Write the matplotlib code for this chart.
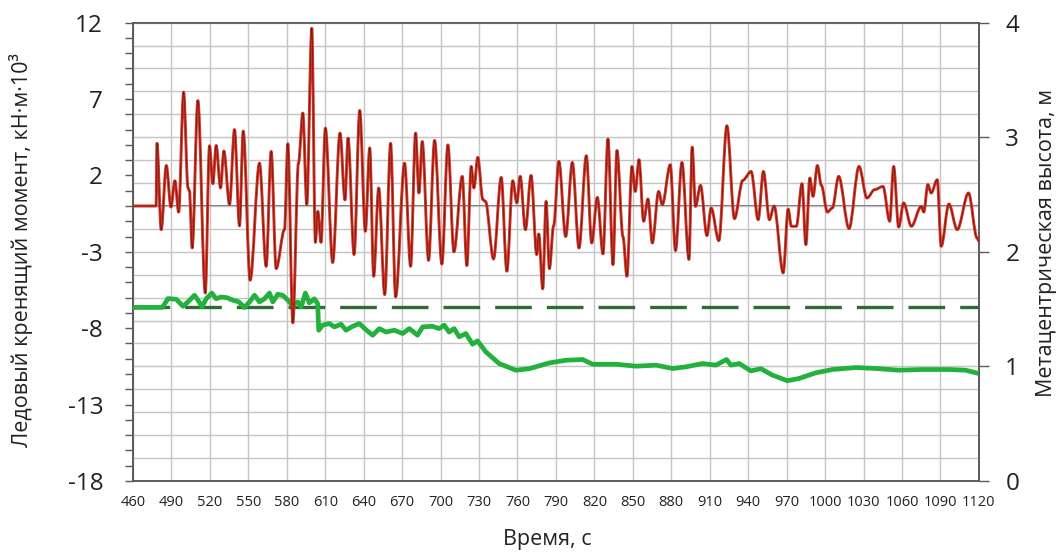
import numpy as np
import matplotlib
matplotlib.use("Agg")
import matplotlib.pyplot as plt
from matplotlib.ticker import MultipleLocator
from matplotlib.path import Path
from matplotlib.patches import PathPatch

plt.rcParams['font.family'] = ['Open Sans', 'DejaVu Sans']
plt.rcParams['axes.unicode_minus'] = False

# ice heeling moment, kN*m*10^3 (left axis)
t_moment = [460, 478, 478.7, 482, 486, 489.6, 492.7, 495.6, 499.5, 502.9, 504, 506.2,
            510.6, 516.4, 519.7, 522.3, 524.9, 528.3, 530.9, 535.3, 539.2, 543.1, 546,
            551.4, 558.7, 563.9, 567.8, 571.7, 578.2, 580.8, 584.7, 589.1, 592.5, 595.6,
            599.5, 602.3, 604.2, 606.7, 610.1, 615.8, 621.5, 625.4, 627.8, 632.5, 636.9,
            641.3, 644.7, 647.8, 651.7, 656.4, 661, 664.9, 671.9, 676.6, 680.5, 683.1,
            685.7, 690.6, 695.3, 701, 705.7, 710.4, 716.9, 720.5, 723.9, 726, 729, 733,
            735, 741.3, 747.3, 751.7, 756.3, 759.5, 762.1, 766.2, 770.6, 775, 776.6,
            779.7, 782.3, 784.9, 788.2, 792.3, 797.6, 802.8, 808, 813.7, 817.9, 822.3,
            826.7, 830.6, 834.5, 837.6, 842.3, 845.4, 849.3, 851.9, 854.8, 858.4, 861.8,
            865.2, 870.1, 873, 879.2, 883.3, 888.3, 893.8, 896.3, 898.9, 902.8, 907.8,
            911.1, 917.1, 923.4, 929.3, 935.8, 942.3, 947.8, 951.9, 956.6, 960.2, 967.3,
            971.2, 973.7, 977.6, 982, 985, 988.1, 990.6, 994, 997.1, 1001.8, 1005.7,
            1010.6, 1018.7, 1026.5, 1032.7, 1038.7, 1045.2, 1050.4, 1053.5, 1057.4,
            1061.3, 1067.3, 1075, 1077, 1080.2, 1082.8, 1087.5, 1090.6, 1096.6, 1103.1,
            1111.9, 1118.6, 1120]
moment = [0, 0, 4.1, -1.55, 2.65, -0.07, 1.65, -0.4, 7.45, 1.2, 1.0, -2.75,
          6.9, -5.7, 3.94, 1.46, 3.96, 1.18, 3.6, 0.1, 5.0, -1.3, 4.9,
          -4.86, 2.8, -3.95, 3.57, -4.1, -1.55, 4.07, -7.65, 2.8, 6.08, 0.1,
          11.63, -2.38, -0.35, -2.38, 5.1, -3.7, 4.77, 0.4, 4.44, -3.18, 6.25,
          -1.66, 3.8, -4.6, 1.18, -5.8, 4.1, -5.95, 2.8, -3.95, 4.77, 0.85,
          4.22, -3.56, 4.29, -3.8, 4.0, -3.0, 1.94, -3.9, 2.59, 1.18, 3.18, 0.41,
          0.3, -3.47, 1.87, -4.27, 1.65, 0.2, 1.94, -1.55, 2.0, -3.18, -1.83,
          -5.42, 0.3, -4.1, -1.29, 2.92, -2.0, 2.85, -2.75, 3.29, -2.42, 0.56,
          -3.14, 4.38, -3.84, 3.63, -2.0, -4.6, 2.59, 0.95, 3.03, -1.0, 0.46,
          -2.42, 0.95, 0.08, 2.7, -2.92, 2.85, -3.5, 3.85, -0.03, 1.35, -1.94,
          -0.13, -2.27, 5.25, -0.83, 1.68, 2.26, -0.9, 2.26, -0.9, 0.0, -4.38,
          -0.2, -1.33, -1.33, 1.46, -2.53, 1.83, 0.63, 2.65, 1.35, -0.4, -0.13,
          1.94, -1.48, 2.59, 0.52, 1.07, 1.28, -1.0, 2.59, -1.38,
          0.2, -1.33, -0.03, -0.4, 1.4, 0.85, 1.72, -2.64, 0.13, -1.55,
          0.85, -2.1, -2.3]

# metacentric height, m (right axis)
t_gm = [460, 483, 487.3, 493.8, 499, 502.9, 508, 510.6, 513.8, 517.1, 521.5, 524.9,
        528.8, 533.2, 537.9, 542.6, 547, 550.9, 554.8, 558.7, 562.6, 566.5, 569.1,
        573, 576.9, 580.8, 584.1, 588.6, 591.2, 594.5, 597.6, 601.5, 604.1, 604.9,
        608, 613.2, 617.1, 622.3, 626.2, 631.4, 636.6, 641.8, 647, 652.2, 657.4,
        663.9, 670.4, 675.6, 682, 686, 693.7, 698.9, 702.8, 706.7, 710.6, 714.5,
        719.7, 724.9, 728.8, 735.3, 745.7, 758.7, 769, 785, 797.9, 810.9, 818.7,
        836.9, 852.5, 868.1, 881, 891.4, 904.4, 914.8, 923.1, 926.5, 933, 942.1,
        949.9, 958.9, 970.6, 979.7, 992.7, 1005.7, 1023.9, 1039.5, 1057.6, 1075.8,
        1096.6, 1109.6, 1117.9]
gm = [1.515, 1.515, 1.592, 1.586, 1.525, 1.563, 1.621, 1.58, 1.52, 1.59, 1.64, 1.59,
      1.606, 1.60, 1.578, 1.563, 1.514, 1.563, 1.621, 1.563, 1.59, 1.64, 1.563,
      1.63, 1.62, 1.578, 1.535, 1.563, 1.52, 1.64, 1.555, 1.59, 1.548, 1.316,
      1.36, 1.374, 1.345, 1.368, 1.316, 1.35, 1.374, 1.32, 1.272, 1.33, 1.30,
      1.316, 1.287, 1.33, 1.272, 1.345, 1.35, 1.33, 1.36, 1.30, 1.33, 1.258,
      1.287, 1.194, 1.223, 1.127, 1.025, 0.967, 0.98, 1.031, 1.054, 1.06, 1.019,
      1.019, 1.002, 1.011, 0.982, 0.996, 1.025, 1.011, 1.06, 1.011, 1.025, 0.961,
      0.98, 0.924, 0.875, 0.895, 0.944, 0.973, 0.99, 0.982, 0.967, 0.973,
      0.973, 0.967, 0.944]
gm_limit = 1.52

x_ticks = list(range(460, 1121, 30))

fig = plt.figure(figsize=(10.64, 5.52), dpi=100)
ax = fig.add_axes([0.125, 0.1286, 0.795, 0.8304])
ax2 = ax.twinx()

grid_col = '#c4c4c4'
spine_col = '#5a5a5a'
text_col = '#222222'

ax.set_xlim(460, 1120)
ax.set_ylim(-18, 12)
ax2.set_ylim(0, 4)

ax.set_xticks(x_ticks)
ax.set_xticklabels([str(v) for v in x_ticks], fontsize=10.5)
ax.set_yticks([12, 7, 2, -3, -8, -13, -18])
ax.yaxis.set_minor_locator(MultipleLocator(1))
ax.tick_params(axis='y', which='both', direction='out', length=5.5, width=1,
               color=spine_col, labelsize=17.5, pad=16, labelcolor=text_col)
ax.tick_params(axis='x', length=0, pad=10, labelcolor=text_col)
ax.grid(axis='x', color=grid_col, lw=1.0)

ax2.set_yticks([0, 1, 2, 3, 4])
ax2.yaxis.set_minor_locator(MultipleLocator(0.2))
ax2.tick_params(axis='y', which='major', direction='out', length=7, width=1,
                color=spine_col, labelsize=17.5, pad=12, labelcolor=text_col)
ax2.tick_params(axis='y', which='minor', length=0)
ax2.grid(axis='y', which='both', color=grid_col, lw=1.0)

for a in (ax, ax2):
    for s in a.spines.values():
        s.set_color(spine_col)
        s.set_linewidth(1.2)

# zero line of the moment axis
ax.axhline(0, color='#555555', lw=1.2, zorder=1.8)

ax2.plot([460, 1120], [gm_limit, gm_limit], color='#2f6b34', lw=2.4,
         dashes=(11, 4.5), zorder=2)
ax2.plot(t_gm, gm, color='#22b13c', lw=3.4, solid_joinstyle='round', zorder=3)

# smoothed moment curve: cubic bezier through the read points, flat tangents
verts = [(t_moment[0], moment[0])]
codes = [Path.MOVETO]
for i in range(len(t_moment) - 1):
    dt = (t_moment[i + 1] - t_moment[i]) / 3
    verts += [(t_moment[i] + dt, moment[i]),
              (t_moment[i + 1] - dt, moment[i + 1]),
              (t_moment[i + 1], moment[i + 1])]
    codes += [Path.CURVE4] * 3
curve = Path(verts, codes)
ax2.add_patch(PathPatch(curve, fill=False, edgecolor='#d8301f', lw=2.1,
                        joinstyle='round', transform=ax.transData, zorder=4))
ax2.add_patch(PathPatch(curve, fill=False, edgecolor='#4e1a1a', lw=0.45,
                        joinstyle='round', transform=ax.transData, zorder=5))

ax.set_xlabel('Время, с', fontsize=15.5, color=text_col)
ax.xaxis.set_label_coords(0.49, -0.104)
ax.set_ylabel('Ледовый кренящий момент, кН·м·10³', fontsize=15.5, color=text_col)
ax.yaxis.set_label_coords(-0.118, 0.505)
ax2.set_ylabel('Метацентрическая высота, м', fontsize=15.5, color=text_col)
ax2.yaxis.set_label_coords(1.068, 0.52)

fig.savefig('out.png', dpi=100)
